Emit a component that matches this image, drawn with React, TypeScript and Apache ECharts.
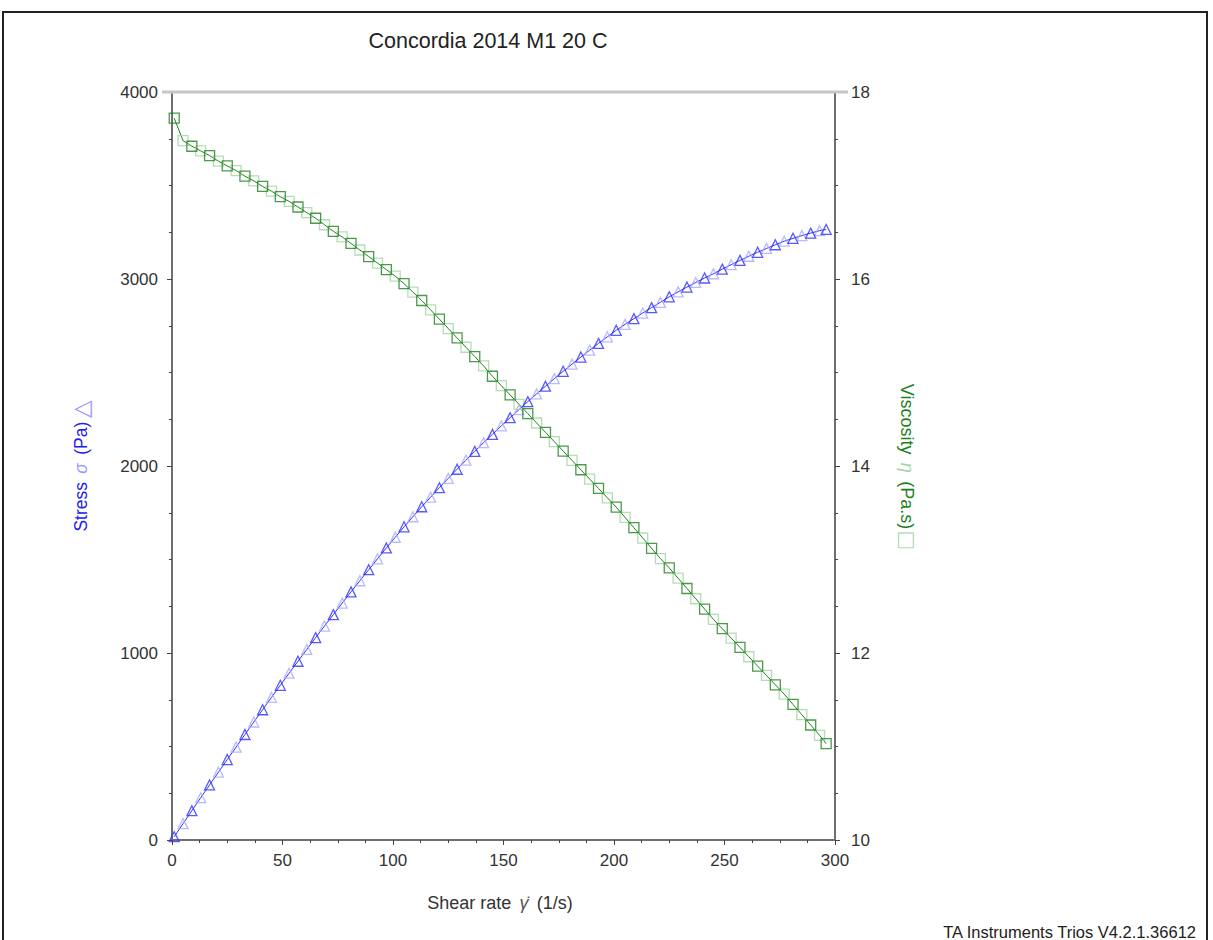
import React, { useEffect, useRef } from "react";
import * as echarts from "echarts";

const title = "Concordia 2014 M1 20 C";
const footer = "TA Instruments Trios V4.2.1.36612";

const shearRate = [
  1, 5, 9, 13, 17, 21, 25, 29, 33, 37, 41, 45, 49, 53, 57, 61, 65, 69, 73, 77,
  81, 85, 89, 93, 97, 101, 105, 109, 113, 117, 121, 125, 129, 133, 137, 141,
  145, 149, 153, 157, 161, 165, 169, 173, 177, 181, 185, 189, 193, 197, 201,
  205, 209, 213, 217, 221, 225, 229, 233, 237, 241, 245, 249, 253, 257, 261,
  265, 269, 273, 277, 281, 285, 289, 293, 296,
];

const stress = [
  17.7, 87.4, 156.8, 226.3, 294.4, 362.5, 430.3, 496.6, 564.3, 630.9, 696.6,
  762.3, 827.1, 892.0, 955.9, 1019.3, 1082.3, 1144.0, 1205.2, 1266.7, 1326.8,
  1386.4, 1445.4, 1503.8, 1561.7, 1619.0, 1674.8, 1728.7, 1782.0, 1833.4,
  1884.0, 1933.8, 1982.7, 2030.9, 2078.3, 2124.9, 2169.2, 2214.1, 2258.3,
  2301.6, 2344.2, 2385.9, 2426.8, 2467.0, 2506.3, 2544.9, 2582.6, 2619.5,
  2655.7, 2691.0, 2725.6, 2757.3, 2788.1, 2818.0, 2847.0, 2875.2, 2904.8,
  2931.2, 2956.8, 2981.5, 3005.3, 3028.2, 3052.7, 3076.5, 3099.4, 3121.6,
  3142.9, 3163.4, 3183.2, 3202.1, 3217.5, 3231.9, 3245.5, 3258.2, 3264.9,
];

const viscosity = [
  17.72, 17.48, 17.42, 17.37, 17.32, 17.26, 17.21, 17.16, 17.1, 17.05, 16.99,
  16.94, 16.88, 16.83, 16.77, 16.71, 16.65, 16.58, 16.51, 16.45, 16.38, 16.31,
  16.24, 16.17, 16.1, 16.03, 15.95, 15.86, 15.77, 15.67, 15.57, 15.47, 15.37,
  15.27, 15.17, 15.07, 14.96, 14.86, 14.76, 14.66, 14.56, 14.46, 14.36, 14.26,
  14.16, 14.06, 13.96, 13.86, 13.76, 13.66, 13.56, 13.45, 13.34, 13.23, 13.12,
  13.01, 12.91, 12.8, 12.69, 12.58, 12.47, 12.36, 12.26, 12.16, 12.06, 11.96,
  11.86, 11.76, 11.66, 11.56, 11.45, 11.34, 11.23, 11.12, 11.03,
];

const xTicks = { min: 0, max: 300, interval: 50 };
const leftTicks = { min: 0, max: 4000, interval: 1000 };
const rightTicks = { min: 10, max: 18, interval: 2 };

const FONT = "'Liberation Sans', Arial, sans-serif";
const BLUE = "#3030ff";
const BLUE_LIGHT = "#a8a8ff";
const GREEN = "#1f7f1f";
const GREEN_LIGHT = "#a3d3a3";

function pairs(xs: number[], ys: number[], parity: number) {
  const out: number[][] = [];
  xs.forEach((x, i) => {
    if (parity < 0 || i % 2 === parity) out.push([x, ys[i]]);
  });
  return out;
}

export default function App() {
  const ref = useRef<HTMLDivElement>(null);
  useEffect(() => {
    if (!ref.current) return;
    const chart = echarts.init(ref.current, undefined, { renderer: "svg" });
    const axisLine = { show: true, lineStyle: { color: "#6f6f6f", width: 2 } };
    const axisTick = { show: true, length: 5, lineStyle: { color: "#444", width: 1 } };
    const minorTick = { show: true, splitNumber: 4, length: 3, lineStyle: { color: "#444", width: 1 } };
    const axisLabel = {
      color: "#333",
      fontSize: 17,
      fontFamily: FONT,
      formatter: (v: number) => String(v),
    };
    chart.setOption({
      animation: false,
      backgroundColor: "#fff",
      grid: { left: 172, right: 378, top: 92, bottom: 100, containLabel: false },
      xAxis: {
        type: "value",
        ...xTicks,
        axisLine: { ...axisLine, onZero: false },
        axisTick,
        minorTick,
        splitLine: { show: false },
        axisLabel: { ...axisLabel, margin: 12 },
      },
      yAxis: [
        {
          type: "value",
          position: "left",
          ...leftTicks,
          axisLine,
          axisTick,
          minorTick,
          splitLine: { show: false },
          axisLabel: { ...axisLabel, margin: 14 },
        },
        {
          type: "value",
          position: "right",
          ...rightTicks,
          axisLine,
          axisTick,
          minorTick,
          splitLine: { show: false },
          axisLabel: { ...axisLabel, margin: 16 },
        },
      ],
      series: [
        {
          type: "line",
          yAxisIndex: 0,
          data: pairs(shearRate, stress, -1),
          showSymbol: false,
          symbol: "none",
          lineStyle: { color: BLUE, width: 1 },
          z: 2,
        },
        {
          type: "line",
          yAxisIndex: 1,
          data: pairs(shearRate, viscosity, -1),
          showSymbol: false,
          symbol: "none",
          lineStyle: { color: GREEN, width: 1 },
          z: 2,
        },
        {
          type: "scatter",
          yAxisIndex: 0,
          data: pairs(shearRate, stress, 1),
          symbol: "triangle",
          symbolSize: 10,
          itemStyle: { color: "rgba(0,0,0,0)", borderColor: BLUE_LIGHT, borderWidth: 1.3 },
          z: 3,
        },
        {
          type: "scatter",
          yAxisIndex: 0,
          data: pairs(shearRate, stress, 0),
          symbol: "triangle",
          symbolSize: 10,
          itemStyle: { color: "rgba(0,0,0,0)", borderColor: BLUE, borderWidth: 1.3 },
          z: 4,
        },
        {
          type: "scatter",
          yAxisIndex: 1,
          data: pairs(shearRate, viscosity, 1),
          symbol: "rect",
          symbolSize: 10,
          itemStyle: { color: "rgba(0,0,0,0)", borderColor: GREEN_LIGHT, borderWidth: 1.3 },
          z: 3,
        },
        {
          type: "scatter",
          yAxisIndex: 1,
          data: pairs(shearRate, viscosity, 0),
          symbol: "rect",
          symbolSize: 10,
          itemStyle: { color: "rgba(0,0,0,0)", borderColor: GREEN, borderWidth: 1.3 },
          z: 4,
        },
      ],
      graphic: [
        {
          type: "rect",
          shape: { x: 3, y: 12, width: 1204, height: 940 },
          style: { fill: "none", stroke: "#222", lineWidth: 2 },
          z: 0,
        },
        {
          type: "line",
          shape: { x1: 162, y1: 92, x2: 848, y2: 92 },
          style: { stroke: "#c6c6c6", lineWidth: 3 },
          z: 1,
        },
        {
          type: "text",
          x: 488,
          y: 41,
          style: {
            text: title,
            fill: "#222",
            fontSize: 21.5,
            fontFamily: FONT,
            textAlign: "center",
            textVerticalAlign: "middle",
          },
        },
        {
          type: "text",
          x: 81,
          y: 466,
          rotation: Math.PI / 2,
          style: {
            text: "{a|Stress} {b|σ} {a|(Pa)} {c|△}",
            textAlign: "center",
            textVerticalAlign: "middle",
            fontFamily: FONT,
            rich: {
              a: { fill: "#2020ee", fontSize: 17.5, fontFamily: FONT },
              b: { fill: "#9a9aff", fontSize: 17.5, fontStyle: "italic", fontFamily: FONT, padding: [0, 5, 0, 5] },
              c: { fill: "#9a9aff", fontSize: 23, fontFamily: FONT },
            },
          },
        },
        {
          type: "text",
          x: 907,
          y: 466,
          rotation: -Math.PI / 2,
          style: {
            text: "{a|Viscosity} {b|η} {a|(Pa.s)} {c|□}",
            textAlign: "center",
            textVerticalAlign: "middle",
            fontFamily: FONT,
            rich: {
              a: { fill: "#1f7f1f", fontSize: 18, fontFamily: FONT },
              b: { fill: "#a3d3a3", fontSize: 18, fontStyle: "italic", fontFamily: FONT, padding: [0, 5, 0, 5] },
              c: { fill: "#a3d3a3", fontSize: 26, fontFamily: FONT },
            },
          },
        },
        {
          type: "text",
          x: 500,
          y: 903,
          style: {
            text: "{a|Shear rate} {b|γ̇} {a|(1/s)}",
            textAlign: "center",
            textVerticalAlign: "middle",
            fontFamily: FONT,
            rich: {
              a: { fill: "#333", fontSize: 18, fontFamily: FONT },
              b: { fill: "#555", fontSize: 18, fontStyle: "italic", fontFamily: FONT, padding: [0, 5, 0, 5] },
            },
          },
        },
        {
          type: "text",
          x: 1196,
          y: 932,
          style: {
            text: footer,
            fill: "#222",
            fontSize: 16.5,
            fontFamily: FONT,
            textAlign: "right",
            textVerticalAlign: "middle",
          },
        },
      ],
    });
    return () => chart.dispose();
  }, []);
  return (
    <div
      ref={ref}
      style={{ position: "fixed", left: 0, top: 0, width: 1213, height: 940 }}
    />
  );
}
